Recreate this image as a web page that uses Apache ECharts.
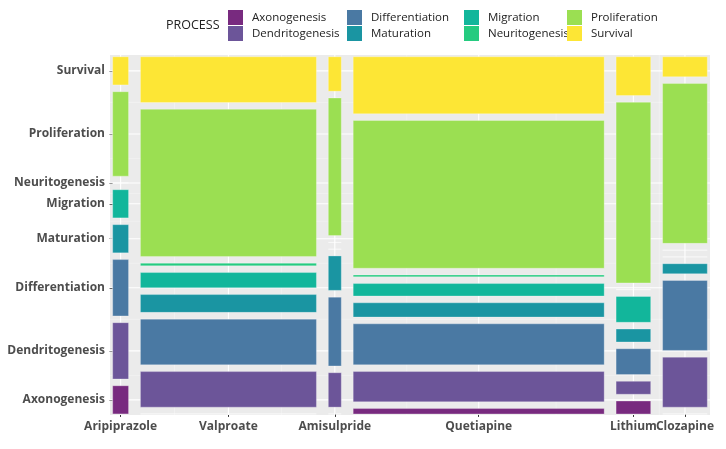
<!DOCTYPE html>
<html>
<head>
<meta charset="utf-8">
<script src="https://cdn.jsdelivr.net/npm/echarts@6/dist/echarts.min.js"></script>
<style>html,body{margin:0;padding:0;background:#fff;}#c{width:726px;height:449px;}</style>
</head>
<body>
<div id="c"></div>
<script>
// ---- data ----
const drugs = ['Aripiprazole', 'Valproate', 'Amisulpride', 'Quetiapine', 'Lithium', 'Clozapine'];
const processes = ['Axonogenesis', 'Dendritogenesis', 'Differentiation', 'Maturation', 'Migration', 'Neuritogenesis', 'Proliferation', 'Survival'];
// counts per drug (same order as drugs)
const axonogenesis    = [1, 0, 0, 3, 1, 0];
const dendritogenesis = [2, 14, 1, 17, 1, 5];
const differentiation = [2, 18, 2, 23, 2, 7];
const maturation      = [1, 7, 1, 8, 1, 1];
const migration       = [1, 6, 0, 7, 2, 0];
const neuritogenesis  = [0, 1, 0, 1, 0, 0];
const proliferation   = [3, 58, 4, 83, 14, 16];
const survival        = [1, 18, 1, 32, 3, 2];
const counts = [axonogenesis, dendritogenesis, differentiation, maturation, migration, neuritogenesis, proliferation, survival];
const colors = ['#782A7F', '#6C5599', '#4A79A3', '#1A95A2', '#12B69B', '#25CB80', '#9BDF52', '#FDE635'];

// ---- mosaic layout (data units 0..1) ----
const GX = 0.02, GY = 0.019;
const totals = drugs.map((d, i) => counts.reduce((s, c) => s + c[i], 0));
const grand = totals.reduce((a, b) => a + b, 0);
const availX = 1 - (drugs.length - 1) * GX;
const availY = 1 - (processes.length - 1) * GY;
const rects = processes.map(() => []);
const xCenters = [];
let xc = 0;
drugs.forEach((d, i) => {
  const w = availX * totals[i] / grand;
  let y = 0;
  processes.forEach((p, j) => {
    const h = availY * counts[j][i] / totals[i];
    rects[j].push([xc, xc + w, y, y + h, i]);
    y += h + GY;
  });
  xCenters.push(xc + w / 2);
  xc += w + GX;
});
const yCenters = rects.map(r => (r[0][2] + r[0][3]) / 2);
function nearest(arr, v) {
  let bi = 0, bd = Infinity;
  arr.forEach((a, i) => { const dd = Math.abs(a - v); if (dd < bd) { bd = dd; bi = i; } });
  return bi;
}
// minor grid positions (midpoints between majors)
const xMinor = [], yMinor = [];
for (let i = 0; i < xCenters.length - 1; i++) xMinor.push((xCenters[i] + xCenters[i + 1]) / 2);
const ySorted = yCenters.slice().sort((a, b) => a - b);
for (let i = 0; i < ySorted.length - 1; i++) yMinor.push((ySorted[i] + ySorted[i + 1]) / 2);

const XMIN = -0.0045, XMAX = 1.0045, YMIN = -0.003, YMAX = 1.005;
const gridData = [];
xCenters.forEach(v => gridData.push(['x', v, 1]));
xMinor.forEach(v => gridData.push(['x', v, 0]));
yCenters.forEach(v => gridData.push(['y', v, 1]));
yMinor.forEach(v => gridData.push(['y', v, 0]));

const FONT = 'Open Sans';
const series = [{
  type: 'custom',
  name: '__grid',
  silent: true,
  z: 1,
  data: gridData.map(g => [g[1], g[1], g[2]]),
  encode: { x: 0, y: 1 },
  renderItem: function (params, api) {
    const g = gridData[params.dataIndex];
    let a, b;
    if (g[0] === 'x') { a = api.coord([g[1], YMIN]); b = api.coord([g[1], YMAX]); }
    else { a = api.coord([XMIN, g[1]]); b = api.coord([XMAX, g[1]]); }
    return {
      type: 'line',
      shape: { x1: a[0], y1: a[1], x2: b[0], y2: b[1] },
      style: { stroke: '#ffffff', lineWidth: g[2] ? 1.1 : 0.5, opacity: g[2] ? 1 : 0.6 }
    };
  }
}];
processes.forEach((p, j) => {
  series.push({
    type: 'custom',
    name: p,
    z: 2,
    itemStyle: { color: colors[j] },
    data: rects[j],
    encode: { x: [0, 1], y: [2, 3] },
    renderItem: function (params, api) {
      const x0 = api.value(0), x1 = api.value(1), y0 = api.value(2), y1 = api.value(3);
      const a = api.coord([x0, y1]);
      const b = api.coord([x1, y0]);
      if (y1 - y0 <= 0) {
        return {
          type: 'line',
          shape: { x1: a[0], y1: a[1], x2: b[0], y2: a[1] },
          style: { stroke: 'rgba(255,255,255,0.75)', lineWidth: 1 }
        };
      }
      return {
        type: 'rect',
        shape: { x: a[0], y: a[1], width: b[0] - a[0], height: b[1] - a[1] },
        style: { fill: colors[j], stroke: 'rgba(255,255,255,0.35)', lineWidth: 0.8 }
      };
    }
  });
});

const legendCols = [[0, 1], [2, 3], [4, 5], [6, 7]];
const legendLeft = [228, 347, 464, 567];
const legends = legendCols.map((col, k) => ({
  orient: 'vertical',
  left: legendLeft[k],
  top: 10,
  padding: 0,
  itemWidth: 15,
  itemHeight: 15,
  itemGap: 1,
  icon: 'rect',
  selectedMode: false,
  data: col.map(j => processes[j]),
  itemStyle: { borderWidth: 0 },
  textStyle: { fontFamily: FONT, fontSize: 11.5, color: '#222', padding: [0, 0, 0, 4] }
}));

// x labels split over two overlaid axes so adjacent labels that touch are both kept
const xEven = xCenters.filter((v, i) => i % 2 === 0);
const xOdd = xCenters.filter((v, i) => i % 2 === 1);
function makeXAxis(vals, showTick) {
  return {
    type: 'value', min: XMIN, max: XMAX, position: 'bottom', offset: 0,
    axisLine: { show: false },
    splitLine: { show: false },
    axisTick: { show: showTick, customValues: xCenters, length: 3, lineStyle: { color: '#333', width: 1 } },
    axisLabel: {
      customValues: vals, margin: 6, hideOverlap: false, showMinLabel: true, showMaxLabel: true,
      fontFamily: FONT, fontSize: 12, fontWeight: 'bold', color: '#4D4D4D',
      formatter: v => drugs[nearest(xCenters, v)]
    }
  };
}

const chart = echarts.init(document.getElementById('c'), null, { renderer: 'canvas' });
chart.setOption({
  animation: false,
  backgroundColor: '#ffffff',
  title: {
    text: 'PROCESS', left: 166, top: 19, padding: 0,
    textStyle: { fontFamily: FONT, fontSize: 12.5, fontWeight: 'normal', color: '#222' }
  },
  legend: legends,
  grid: {
    left: 110, right: 16, top: 55, bottom: 34,
    show: true, backgroundColor: '#EBEBEB', borderWidth: 0,
    containLabel: false, outerBoundsMode: 'none'
  },
  xAxis: [makeXAxis(xEven, true), makeXAxis(xOdd, false)],
  yAxis: {
    type: 'value', min: YMIN, max: YMAX,
    axisLine: { show: false },
    splitLine: { show: false },
    axisTick: { show: true, customValues: yCenters, length: 3, lineStyle: { color: '#333', width: 1 } },
    axisLabel: {
      customValues: yCenters, margin: 5, hideOverlap: false, showMinLabel: true, showMaxLabel: true,
      fontFamily: FONT, fontSize: 12, fontWeight: 'bold', color: '#4D4D4D',
      formatter: v => processes[nearest(yCenters, v)]
    }
  },
  series: series
});
</script>
</body>
</html>
